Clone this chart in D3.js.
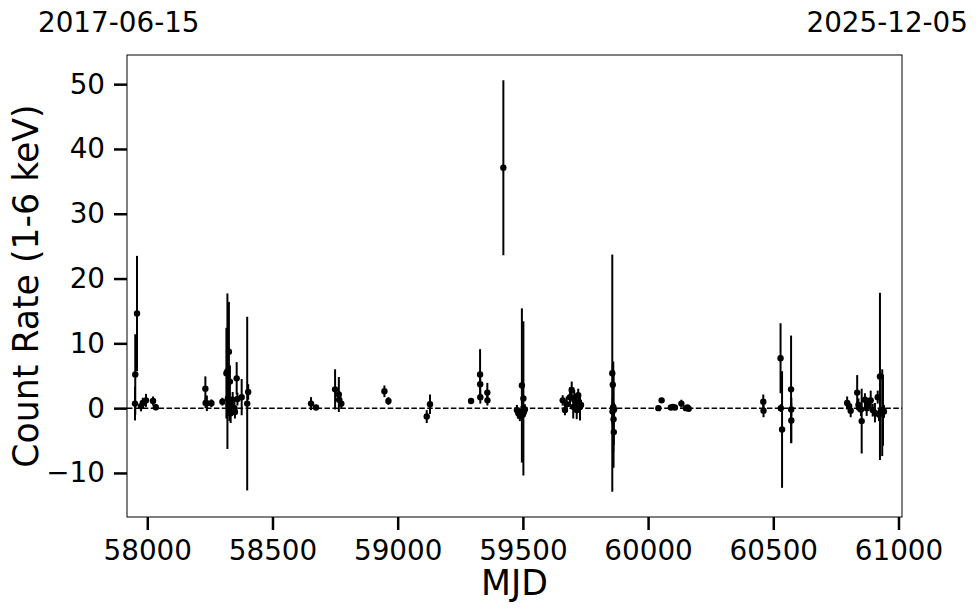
<!DOCTYPE html>
<html>
<head>
<meta charset="utf-8">
<script src="https://cdn.jsdelivr.net/npm/d3@7/dist/d3.min.js"></script>
<style>
  html, body { margin: 0; padding: 0; background: #fff; }
  svg { display: block; font-family: "DejaVu Sans", sans-serif; }
</style>
</head>
<body>
<svg id="chart" width="980" height="613"></svg>
<script>
// ---- data ----
const mjd = [
  57951, 57952, 57959, 57975, 57982, 57995, 58023, 58034,
  58232, 58233, 58238, 58256,
  58300, 58316, 58320, 58326, 58330, 58322, 58325, 58328, 58333, 58337, 58341, 58348, 58350, 58357, 58360, 58377, 58399, 58403,
  58654, 58674, 58750, 58765, 58766, 58775,
  58947, 58963, 59116, 59129,
  59293, 59329, 59329.5, 59330, 59358, 59358.5,
  59422,
  59496, 59502, 59476, 59482, 59488, 59494, 59500, 59504, 59508,
  59659, 59668, 59675, 59688, 59695, 59701, 59705, 59712, 59715, 59721, 59728, 59732,
  59857, 59859, 59860, 59861, 59858, 59862, 59863, 59864,
  60041, 60054, 60091, 60099, 60107, 60133, 60151, 60157, 60162,
  60460, 60461, 60529, 60535, 60530, 60571, 60571.5, 60572,
  60795, 60803, 60809, 60835, 60840, 60850, 60853, 60866, 60873, 60879, 60889, 60897, 60906, 60917, 60926, 60935, 60942, 60922, 60938
];
const rate = [
  0.7, 5.2, 14.6, 0.3, 0.8, 1.2, 1.1, 0.15,
  3.0, 0.8, 0.75, 0.75,
  1.0, 5.4, 5.7, 8.7, 4.1, 1.5, 0.5, -0.5, -0.8, 0.3, 1.3, 0.0, -0.6, 4.6, 1.4, 1.7, 0.7, 2.5,
  0.7, 0.1, 2.9, 2.1, 1.3, 0.7,
  2.6, 1.1, -1.3, 0.6,
  1.1, 5.2, 3.7, 1.7, 2.4, 1.2,
  37.1,
  3.5, 1.5, -0.3, -0.8, -1.2, -0.5, -1.0, -0.6, -0.2,
  1.2, -0.3, 0.6, 1.7, 2.8, 0.2, 1.3, 1.0, -0.3, 2.0, 0.2, 0.5,
  5.4, 3.6, 0.0, 0.2, -0.5, -1.7, -3.7, -0.2,
  0.0, 1.2, 0.1, 0.2, 0.1, 0.7, 0.0, 0.1, -0.1,
  1.0, -0.4, 7.7, -3.3, 0.0, 2.9, -0.2, -1.9,
  0.8, 0.3, -0.4, 2.4, 0.5, -0.2, -2.0, 1.3, 0.0, 0.6, 1.2, -0.3, -0.7, 1.7, 4.9, -0.7, -0.5, -1.0, -0.3
];
const rateErr = [
  2.6, 6.2, 8.9, 0.8, 0.8, 1.0, 0.7, 0.5,
  1.9, 0.8, 1.2, 0.6,
  0.6, 7.0, 12.0, 7.7, 2.5, 2.0, 1.5, 1.5, 1.5, 1.0, 1.2, 1.0, 1.0, 2.5, 1.0, 2.8, 13.4, 1.2,
  1.0, 0.4, 3.1, 2.7, 1.0, 0.8,
  0.9, 0.6, 1.0, 1.5,
  0.3, 3.9, 1.0, 1.0, 1.5, 0.8,
  13.5,
  11.9, 11.9, 0.8, 0.8, 0.8, 0.8, 0.8, 0.8, 0.8,
  0.8, 0.8, 1.2, 1.5, 1.3, 1.8, 1.5, 1.2, 1.4, 1.0, 2.1, 0.8,
  18.3, 3.2, 1.5, 7.0, 2.0, 7.5, 2.0, 1.0,
  0.4, 0.4, 0.3, 0.3, 0.3, 0.6, 0.3, 0.3, 0.3,
  1.1, 1.0, 5.4, 9.0, 0.6, 8.3, 1.0, 3.5,
  1.0, 0.8, 1.0, 2.7, 1.0, 1.0, 5.0, 1.0, 1.2, 1.0, 1.5, 1.0, 1.5, 1.0, 12.9, 6.7, 1.0, 1.0, 5.5
];
const xTicks = [58000, 58500, 59000, 59500, 60000, 60500, 61000];
const yTicks = [-10, 0, 10, 20, 30, 40, 50];
const xDomain = [57919, 61014];   // 2017-06-15 .. 2025-12-05
const yDomain = [-16.8, 54.5];
const dateLabels = ["2017-06-15", "2025-12-05"];
const xLabel = "MJD";
const yLabel = "Count Rate (1-6 keV)";

// ---- layout ----
const svg = d3.select("#chart");
const L = 127, R = 902, T = 55, B = 517;
const x = d3.scaleLinear().domain(xDomain).range([L, R]);
const y = d3.scaleLinear().domain(yDomain).range([B, T]);
const tickFont = "27.8px";
const labelFont = "34.7px";

const points = mjd.map((m, i) => ({ m, v: rate[i], e: rateErr[i] }));

const plot = svg.append("g");
plot.append("defs").append("clipPath").attr("id", "clip")
  .append("rect").attr("x", L).attr("y", T).attr("width", R - L).attr("height", B - T);

const inner = plot.append("g").attr("clip-path", "url(#clip)");

// zero line
inner.append("line")
  .attr("x1", L).attr("x2", R)
  .attr("y1", y(0)).attr("y2", y(0))
  .attr("stroke", "#000").attr("stroke-width", 1.5)
  .attr("stroke-dasharray", "5.5,2.4");

// error bars
inner.append("g").selectAll("line").data(points).join("line")
  .attr("x1", d => x(d.m)).attr("x2", d => x(d.m))
  .attr("y1", d => y(d.v - d.e)).attr("y2", d => y(d.v + d.e))
  .attr("stroke", "#000").attr("stroke-width", 2);

// points
inner.append("g").selectAll("circle").data(points).join("circle")
  .attr("cx", d => x(d.m)).attr("cy", d => y(d.v))
  .attr("r", 3.2).attr("fill", "#000");

// frame
svg.append("rect").attr("x", L).attr("y", T).attr("width", R - L).attr("height", B - T)
  .attr("fill", "none").attr("stroke", "#000").attr("stroke-width", 1);

// axes
const xAxis = d3.axisBottom(x).tickValues(xTicks).tickFormat(d3.format("d"))
  .tickSize(13).tickPadding(10);
const gx = svg.append("g").attr("transform", `translate(0,${B})`).call(xAxis);
gx.select(".domain").remove();
gx.selectAll(".tick line").attr("stroke-width", 2.5);
gx.selectAll(".tick text").attr("font-size", tickFont).attr("fill", "#000")
  .attr("font-family", "DejaVu Sans");

const yAxis = d3.axisLeft(y).tickValues(yTicks)
  .tickFormat(d => d < 0 ? "\u2212" + Math.abs(d) : String(d))
  .tickSize(13).tickPadding(9);
const gy = svg.append("g").attr("transform", `translate(${L},0)`).call(yAxis);
gy.select(".domain").remove();
gy.selectAll(".tick line").attr("stroke-width", 2.5);
gy.selectAll(".tick text").attr("font-size", tickFont).attr("fill", "#000")
  .attr("font-family", "DejaVu Sans");

// axis labels
svg.append("text").attr("x", (L + R) / 2).attr("y", 595)
  .attr("text-anchor", "middle").attr("font-size", labelFont).attr("fill", "#000")
  .text(xLabel);
svg.append("text")
  .attr("transform", `translate(38,${(T + B) / 2}) rotate(-90)`)
  .attr("text-anchor", "middle").attr("font-size", labelFont).attr("fill", "#000")
  .text(yLabel);

// top date labels
svg.append("text").attr("x", 38).attr("y", 32)
  .attr("text-anchor", "start").attr("font-size", tickFont).attr("fill", "#000")
  .text(dateLabels[0]);
svg.append("text").attr("x", 968).attr("y", 32)
  .attr("text-anchor", "end").attr("font-size", tickFont).attr("fill", "#000")
  .text(dateLabels[1]);
</script>
</body>
</html>
